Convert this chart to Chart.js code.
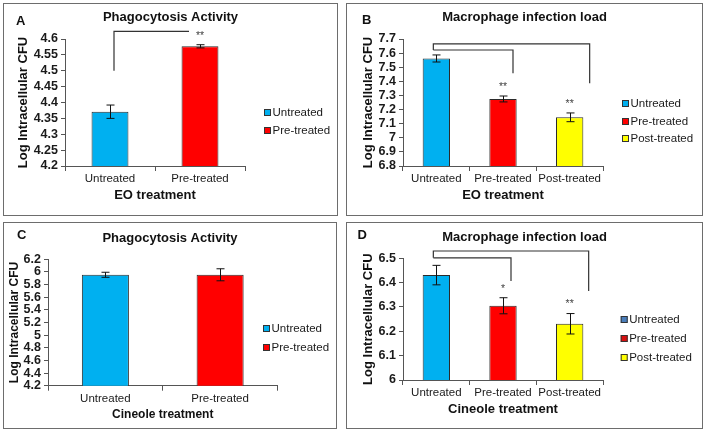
<!DOCTYPE html>
<html>
<head>
<meta charset="utf-8">
<script src="https://cdn.jsdelivr.net/npm/chart.js@4.4.0/dist/chart.umd.min.js"></script>
<style>
  body { margin: 0; background: #fff; }
  #fig { position: relative; width: 705px; height: 433px; background: #fff; }
  .panel { position: absolute; }
  .panel canvas { position: absolute; left: 0; top: 0; }
  .panel::after { content: ''; position: absolute; left: 0; top: 0; right: 0; bottom: 0;
    border: 1.5px solid #6d6d6d; pointer-events: none; }
</style>
</head>
<body>
<div id="fig">
  <div class="panel" style="left:3px;top:3px;width:335px;height:213px"><canvas id="chartA" width="335" height="213"></canvas></div>
  <div class="panel" style="left:346px;top:3px;width:357px;height:213px"><canvas id="chartB" width="357" height="213"></canvas></div>
  <div class="panel" style="left:3px;top:222px;width:334px;height:207px"><canvas id="chartC" width="334" height="207"></canvas></div>
  <div class="panel" style="left:346px;top:222px;width:357px;height:207px"><canvas id="chartD" width="357" height="207"></canvas></div>
</div>
<script>
"use strict";

// bar colours, one per group (same order as the categories)
const groupColors = ['#00B0F0', '#FF0000', '#FFFF00'];

// A: EO treatment, phagocytosis
const catsA = ['Untreated', 'Pre-treated'];
const meanA = [4.371, 4.577];
const errA = [0.021, 0.005];
const starsA = ['', '**'];
const yTicksA = ['4.2', '4.25', '4.3', '4.35', '4.4', '4.45', '4.5', '4.55', '4.6'];

// B: EO treatment, infection load
const catsB = ['Untreated', 'Pre-treated', 'Post-treated'];
const meanB = [7.562, 7.275, 7.145];
const errB = [0.025, 0.021, 0.031];
const starsB = ['', '**', '**'];
const yTicksB = ['6.8', '6.9', '7', '7.1', '7.2', '7.3', '7.4', '7.5', '7.6', '7.7'];

// C: cineole treatment, phagocytosis
const catsC = ['Untreated', 'Pre-treated'];
const meanC = [5.955, 5.955];
const errC = [0.04, 0.095];
const starsC = ['', ''];
const yTicksC = ['4.2', '4.4', '4.6', '4.8', '5', '5.2', '5.4', '5.6', '5.8', '6', '6.2'];

// D: cineole treatment, infection load
const catsD = ['Untreated', 'Pre-treated', 'Post-treated'];
const meanD = [6.431, 6.305, 6.231];
const errD = [0.04, 0.033, 0.042];
const starsD = ['', '*', '**'];
const yTicksD = ['6', '6.1', '6.2', '6.3', '6.4', '6.5'];

const FONT = "'Liberation Sans', Arial, sans-serif";
Chart.defaults.font.family = FONT;
Chart.defaults.color = '#1a1a1a';

// error bars, stars, brackets, panel letter and legend
function makeExtras(p) {
  return {
    id: 'extras',
    afterDatasetsDraw(chart) {
      const ctx = chart.ctx;
      const y = chart.scales.y;
      const bars = chart.getDatasetMeta(0).data;
      ctx.save();

      // error bars
      ctx.strokeStyle = '#111';
      ctx.lineWidth = 1;
      p.means.forEach((m, i) => {
        const x = Math.round(bars[i].x) + 0.5;
        const hi = y.getPixelForValue(m + p.errs[i]);
        const lo = y.getPixelForValue(m - p.errs[i]);
        ctx.beginPath();
        ctx.moveTo(x, hi); ctx.lineTo(x, lo);
        ctx.moveTo(x - 4, hi); ctx.lineTo(x + 4, hi);
        ctx.moveTo(x - 4, lo); ctx.lineTo(x + 4, lo);
        ctx.stroke();
      });

      // significance stars
      ctx.fillStyle = '#444';
      ctx.font = '10.5px ' + FONT;
      ctx.textAlign = 'center';
      ctx.textBaseline = 'middle';
      p.stars.forEach((s, i) => {
        if (!s) return;
        const top = y.getPixelForValue(p.means[i] + p.errs[i]);
        ctx.fillText(s, bars[i].x, top - 9);
      });

      // comparison brackets
      ctx.strokeStyle = '#333';
      ctx.lineWidth = 1.2;
      p.brackets.forEach(b => {
        const x1 = bars[b.from].x + b.dx1;
        const x2 = bars[b.to].x + b.dx2;
        const yy = y.getPixelForValue(b.y);
        ctx.beginPath();
        if (b.leftTo != null) {
          ctx.moveTo(x1, y.getPixelForValue(b.leftTo));
          ctx.lineTo(x1, yy);
        } else {
          ctx.moveTo(x1, yy);
        }
        ctx.lineTo(x2, yy);
        if (b.rightTo != null) ctx.lineTo(x2, y.getPixelForValue(b.rightTo));
        ctx.stroke();
      });

      // panel letter
      ctx.fillStyle = '#111';
      ctx.font = 'bold 13px ' + FONT;
      ctx.fillText(p.letter, p.letterPos[0], p.letterPos[1]);

      // legend
      const colors = p.legendColors || groupColors;
      ctx.font = '11.5px ' + FONT;
      ctx.textAlign = 'left';
      p.cats.forEach((c, i) => {
        const ly = Math.round(p.legendY[i]);
        ctx.fillStyle = colors[i];
        ctx.fillRect(p.legendX, ly - 3, 7, 7);
        ctx.strokeStyle = '#333';
        ctx.lineWidth = 1;
        ctx.strokeRect(p.legendX + 0.5, ly - 2.5, 6, 6);
        ctx.fillStyle = '#1a1a1a';
        ctx.fillText(c, p.legendX + 8.5, ly + 1);
      });

      ctx.restore();
    }
  };
}

function buildPanel(id, p) {
  return new Chart(document.getElementById(id), {
    type: 'bar',
    data: {
      labels: p.cats,
      datasets: [{
        data: p.means,
        backgroundColor: groupColors.slice(0, p.cats.length),
        borderColor: '#2b2b2b',
        borderWidth: 1,
        barPercentage: 0.41,
        categoryPercentage: 1
      }]
    },
    options: {
      responsive: false,
      animation: false,
      layout: { padding: 0 },
      plugins: {
        legend: { display: false },
        tooltip: { enabled: false },
        title: {
          display: true,
          text: p.title,
          color: '#111',
          font: { size: 13, weight: 'bold' },
          padding: { top: p.titlePad[0], bottom: p.titlePad[1] }
        }
      },
      scales: {
        x: {
          ticks: { font: { size: 11.5 }, color: '#1a1a1a', padding: 1,
            autoSkip: false, maxRotation: 0, minRotation: 0 },
          grid: { drawOnChartArea: false, tickLength: 5, color: '#555' },
          border: { color: '#555' },
          title: {
            display: true,
            text: p.xTitle,
            color: '#111',
            font: { size: p.xTitleSize, weight: 'bold' },
            padding: { top: 0, bottom: p.xTitlePad }
          },
          afterFit: s => { s.height = p.xHeight; }
        },
        y: {
          min: p.min,
          max: p.max,
          ticks: {
            stepSize: p.step,
            autoSkip: false,
            callback: (v, i) => p.yTicks[i],
            font: { size: 12.5, weight: 'bold' },
            color: '#1a1a1a',
            padding: 3
          },
          grid: { drawOnChartArea: false, tickLength: 4, color: '#555' },
          border: { color: '#555' },
          title: {
            display: true,
            text: 'Log Intracellular CFU',
            color: '#111',
            font: { size: p.yTitleSize, weight: 'bold' },
            padding: { top: p.yTitlePad, bottom: 0 }
          },
          afterFit: s => { s.width = p.yWidth; }
        },
        // empty right-hand box that keeps room for the legend
        side: {
          type: 'linear',
          position: 'right',
          grid: { display: false },
          ticks: { display: false },
          border: { display: false },
          afterFit: s => { s.width = p.padRight; }
        }
      }
    },
    plugins: [makeExtras(p)]
  });
}

buildPanel('chartA', {
  cats: catsA, means: meanA, errs: errA, stars: starsA, yTicks: yTicksA,
  min: 4.2, max: 4.6, step: 0.05,
  title: 'Phagocytosis Activity', xTitle: 'EO treatment',
  padRight: 93, yWidth: 62, titlePad: [6.2, 14.2], xHeight: 50, xTitlePad: 13.2,
  xTitleSize: 13, yTitleSize: 13, yTitlePad: 12.2,
  letter: 'A', letterPos: [17.7, 18.7],
  legendX: 261, legendY: [109, 127],
  brackets: [{ from: 0, to: 1, dx1: 4, dx2: -11, y: 4.624, leftTo: 4.5, rightTo: null }]
});

buildPanel('chartB', {
  cats: catsB, means: meanB, errs: errB, stars: starsB, yTicks: yTicksB,
  min: 6.8, max: 7.7, step: 0.1,
  title: 'Macrophage infection load', xTitle: 'EO treatment',
  padRight: 100, yWidth: 57, titlePad: [6.2, 14.2], xHeight: 50, xTitlePad: 13.2,
  xTitleSize: 13, yTitleSize: 13, yTitlePad: 14.5,
  letter: 'B', letterPos: [20.7, 17.7],
  legendX: 276, legendY: [99.7, 117.7, 135.3],
  brackets: [
    { from: 0, to: 2, dx1: -3, dx2: 20, y: 7.665, leftTo: 7.622, rightTo: 7.386 },
    { from: 0, to: 1, dx1: -3, dx2: 10, y: 7.622, leftTo: null, rightTo: 7.457 }
  ]
});

buildPanel('chartC', {
  cats: catsC, means: meanC, errs: errC, stars: starsC, yTicks: yTicksC,
  min: 4.2, max: 6.2, step: 0.2,
  title: 'Phagocytosis Activity', xTitle: 'Cineole treatment',
  padRight: 59.5, yWidth: 45, titlePad: [8.5, 13.2], xHeight: 43.3, xTitlePad: 6.9,
  xTitleSize: 12, yTitleSize: 12, yTitlePad: 4.8,
  letter: 'C', letterPos: [18.7, 13],
  legendX: 260, legendY: [106.3, 125.3],
  brackets: []
});

buildPanel('chartD', {
  cats: catsD, means: meanD, errs: errD, stars: starsD, yTicks: yTicksD,
  min: 6, max: 6.5, step: 0.1,
  title: 'Macrophage infection load', xTitle: 'Cineole treatment',
  padRight: 100, yWidth: 57, titlePad: [7.9, 12.8], xHeight: 49, xTitlePad: 12.2,
  xTitleSize: 13, yTitleSize: 13, yTitlePad: 14.5,
  letter: 'D', letterPos: [16.3, 13],
  legendX: 274.7, legendY: [97, 115.7, 134.7],
  legendColors: ['#4a7ebb', '#d81010', '#FFFF00'],
  brackets: [
    { from: 0, to: 2, dx1: -3, dx2: 19, y: 6.53, leftTo: 6.502, rightTo: 6.366 },
    { from: 0, to: 1, dx1: -3, dx2: 8, y: 6.502, leftTo: null, rightTo: 6.407 }
  ]
});
</script>
</body>
</html>
